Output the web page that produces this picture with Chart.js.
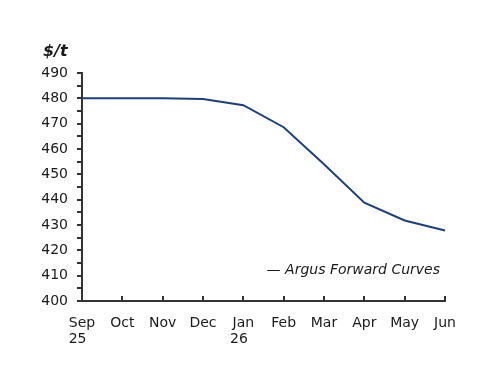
<!DOCTYPE html>
<html>
<head>
<meta charset="utf-8">
<style>
html, body { margin: 0; padding: 0; background: #fff; }
#wrap { width: 500px; height: 386px; }
</style>
</head>
<body>
<div id="wrap"><canvas id="myChart" width="500" height="386"></canvas></div>
<script src="https://cdn.jsdelivr.net/npm/chart.js"></script>
<script>
var months = [['Sep', '25  '], 'Oct', 'Nov', 'Dec', ['Jan', '26  '], 'Feb', 'Mar', 'Apr', 'May', 'Jun'];
var forwardCurve = [480, 480, 480, 479.7, 477.3, 468.6, 454, 438.8, 431.8, 427.8];
var seriesName = 'Argus Forward Curves';
var unitLabel = '$/t';

var fontFamily = '"DejaVu Sans", sans-serif';
var textColor = '#1a1a1a';
var axisColor = '#333';

// title, in-plot legend and inward x ticks
var extras = {
    id: 'extras',
    afterDraw: function(chart){
        var ctx = chart.ctx;
        var x = chart.scales.x;
        var area = chart.chartArea;
        ctx.save();
        ctx.strokeStyle = axisColor;
        ctx.lineWidth = 2;
        for(var i = 0; i < months.length; i++){
            var px = Math.round(x.getPixelForTick(i));
            ctx.beginPath();
            ctx.moveTo(px, area.bottom);
            ctx.lineTo(px, area.bottom - 5);
            ctx.stroke();
        }
        ctx.fillStyle = textColor;
        ctx.font = 'italic bold 16px ' + fontFamily;
        ctx.textBaseline = 'middle';
        ctx.textAlign = 'left';
        ctx.fillText(unitLabel, 43, 52);
        ctx.font = 'italic 14px ' + fontFamily;
        ctx.textAlign = 'right';
        ctx.fillText('\u2014 ' + chart.data.datasets[0].label, 440, 270);
        ctx.restore();
    }
};

var ctx = document.getElementById('myChart').getContext('2d');
var myChart = new Chart(ctx, {
    type: 'line',
    data: {
        labels: months,
        datasets: [{
            label: seriesName,
            data: forwardCurve,
            borderColor: '#1f3f78',
            borderWidth: 2,
            pointRadius: 0,
            tension: 0,
            fill: false
        }]
    },
    options: {
        animation: false,
        responsive: false,
        devicePixelRatio: 1,
        layout: { padding: { left: 0, right: 55, top: 73, bottom: 0 } },
        plugins: {
            legend: { display: false },
            tooltip: { enabled: false }
        },
        scales: {
            x: {
                offset: false,
                grid: { display: false },
                border: { display: true, color: axisColor, width: 2 },
                ticks: {
                    color: textColor,
                    font: { family: fontFamily, size: 14, lineHeight: 1.1 },
                    padding: 7,
                    maxRotation: 0,
                    autoSkip: false
                },
                afterFit: function(s){ s.height = 85; }
            },
            y: {
                min: 400,
                max: 490,
                grid: { drawOnChartArea: false, drawTicks: true, tickLength: 5, color: axisColor, lineWidth: 2 },
                border: { display: true, color: axisColor, width: 2 },
                ticks: {
                    stepSize: 5,
                    color: textColor,
                    font: { family: fontFamily, size: 14 },
                    padding: 9,
                    autoSkip: false,
                    callback: function(v){ return v % 10 === 0 ? v : ''; }
                },
                afterFit: function(s){ s.width = 82; }
            }
        }
    },
    plugins: [extras]
});
</script>
</body>
</html>
